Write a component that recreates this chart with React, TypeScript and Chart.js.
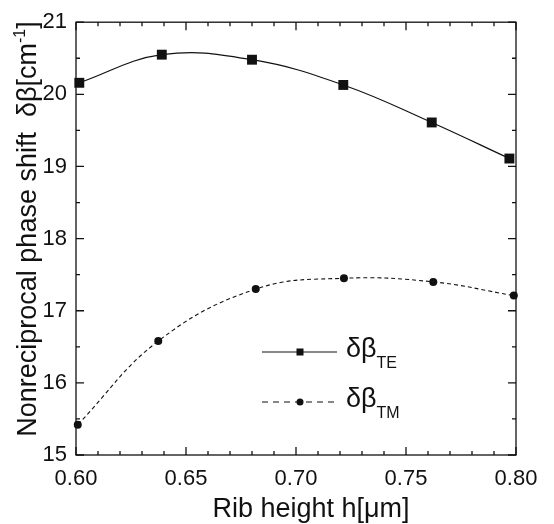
import React, { useEffect, useRef } from "react";
import { Chart, registerables } from "chart.js";

Chart.register(...registerables);

// ---- data ----
const ribHeightTE = [0.6015, 0.639, 0.68, 0.7215, 0.7617, 0.797];
const phaseShiftTE = [20.16, 20.55, 20.48, 20.13, 19.61, 19.11];
const ribHeightTM = [0.6008, 0.6374, 0.6817, 0.7218, 0.7624, 0.799];
const phaseShiftTM = [15.42, 16.58, 17.3, 17.45, 17.4, 17.21];
const xTickValues = [0.6, 0.65, 0.7, 0.75, 0.8];
const yTickValues = [15, 16, 17, 18, 19, 20, 21];
const xMinorPerMajor = 5;
const yMinorPerMajor = 2;
const xAxisTitle = "Rib height h[μm]";
const yAxisTitle = "Nonreciprocal phase shift  δβ[cm";
const yAxisTitleSup = "-1";
const yAxisTitleEnd = "]";
const legendMain = ["δβ", "δβ"];
const legendSub = ["TE", "TM"];

const FONT = '"Liberation Sans", Arial, Helvetica, sans-serif';
const INK = "#111";

const framePlugin = {
  id: "framePlugin",
  afterDraw(chart: any) {
    const ctx = chart.ctx as CanvasRenderingContext2D;
    const { left, right, top, bottom } = chart.chartArea;
    const xs = chart.scales.x;
    const ys = chart.scales.y;
    ctx.save();
    ctx.strokeStyle = INK;
    ctx.lineWidth = 1.3;
    ctx.strokeRect(left, top, right - left, bottom - top);

    ctx.beginPath();
    // x ticks (bottom & top, inward)
    for (let m = 0; m < xTickValues.length; m++) {
      const a = xTickValues[m];
      const b = m + 1 < xTickValues.length ? xTickValues[m + 1] : a;
      const steps = m + 1 < xTickValues.length ? xMinorPerMajor : 1;
      for (let i = 0; i < steps; i++) {
        const v = a + ((b - a) * i) / xMinorPerMajor;
        const p = xs.getPixelForValue(v);
        const len = i === 0 ? 8 : 4;
        ctx.moveTo(p, bottom);
        ctx.lineTo(p, bottom - len);
        ctx.moveTo(p, top);
        ctx.lineTo(p, top + len);
      }
    }
    // y ticks (left & right, inward)
    for (let m = 0; m < yTickValues.length; m++) {
      const a = yTickValues[m];
      const b = m + 1 < yTickValues.length ? yTickValues[m + 1] : a;
      const steps = m + 1 < yTickValues.length ? yMinorPerMajor : 1;
      for (let i = 0; i < steps; i++) {
        const v = a + ((b - a) * i) / yMinorPerMajor;
        const p = ys.getPixelForValue(v);
        const len = i === 0 ? 8 : 4;
        ctx.moveTo(left, p);
        ctx.lineTo(left + len, p);
        ctx.moveTo(right, p);
        ctx.lineTo(right - len, p);
      }
    }
    ctx.stroke();

    // x axis title
    ctx.fillStyle = INK;
    ctx.font = `27px ${FONT}`;
    ctx.textAlign = "center";
    ctx.textBaseline = "alphabetic";
    ctx.fillText(xAxisTitle, 311, 517);

    // y axis title (rotated, with superscript)
    ctx.save();
    ctx.translate(36, 229);
    ctx.rotate(-Math.PI / 2);
    ctx.textAlign = "left";
    ctx.font = `27px ${FONT}`;
    const w1 = ctx.measureText(yAxisTitle).width;
    const w3 = ctx.measureText(yAxisTitleEnd).width;
    ctx.font = `16px ${FONT}`;
    const w2 = ctx.measureText(yAxisTitleSup).width;
    const total = w1 + w2 + w3;
    let x0 = -total / 2;
    ctx.font = `27px ${FONT}`;
    ctx.fillText(yAxisTitle, x0, 0);
    x0 += w1;
    ctx.font = `16px ${FONT}`;
    ctx.fillText(yAxisTitleSup, x0, -11);
    x0 += w2;
    ctx.font = `27px ${FONT}`;
    ctx.fillText(yAxisTitleEnd, x0, 0);
    ctx.restore();

    // legend
    const rows = [352, 402];
    for (let k = 0; k < 2; k++) {
      const y = rows[k];
      ctx.save();
      ctx.lineWidth = 1.2;
      ctx.strokeStyle = INK;
      ctx.setLineDash(k === 0 ? [] : [6, 5]);
      ctx.beginPath();
      ctx.moveTo(262, y);
      ctx.lineTo(337, y);
      ctx.stroke();
      ctx.restore();
      ctx.fillStyle = INK;
      if (k === 0) {
        ctx.fillRect(300 - 3.5, y - 3.5, 7, 7);
      } else {
        ctx.beginPath();
        ctx.arc(300, y, 3.5, 0, Math.PI * 2);
        ctx.fill();
      }
      ctx.textAlign = "left";
      ctx.font = `27px ${FONT}`;
      ctx.fillText(legendMain[k], 346, y + 5);
      const wm = ctx.measureText(legendMain[k]).width;
      ctx.font = `16px ${FONT}`;
      ctx.fillText(legendSub[k], 346 + wm, y + 16);
    }
    ctx.restore();
  },
};

export default function App() {
  const canvasRef = useRef<HTMLCanvasElement | null>(null);

  useEffect(() => {
    const canvas = canvasRef.current;
    if (!canvas) return;
    const chart = new Chart(canvas, {
      type: "line",
      data: {
        datasets: [
          {
            label: "TE",
            data: ribHeightTE.map((x, i) => ({ x, y: phaseShiftTE[i] })),
            borderColor: INK,
            backgroundColor: INK,
            borderWidth: 1.2,
            pointStyle: "rect",
            pointRadius: 7,
            pointBorderWidth: 0,
            tension: 0.4,
            clip: false as any,
            fill: false,
          },
          {
            label: "TM",
            data: ribHeightTM.map((x, i) => ({ x, y: phaseShiftTM[i] })),
            borderColor: INK,
            backgroundColor: INK,
            borderWidth: 1.1,
            borderDash: [4, 3],
            pointStyle: "circle",
            pointRadius: 4,
            pointBorderWidth: 0,
            tension: 0.4,
            clip: false as any,
            fill: false,
          },
        ],
      },
      options: {
        responsive: false,
        animation: false,
        devicePixelRatio: 1,
        layout: { padding: { left: 0, right: 38, top: 15, bottom: 0 } },
        plugins: {
          legend: { display: false },
          tooltip: { enabled: false },
        },
        scales: {
          x: {
            type: "linear",
            min: xTickValues[0],
            max: xTickValues[xTickValues.length - 1],
            grid: { display: false, drawTicks: false },
            border: { display: false },
            afterBuildTicks: (s: any) => {
              s.ticks = xTickValues.map((v) => ({ value: v }));
            },
            afterFit: (s: any) => {
              s.height = 69;
            },
            ticks: {
              color: INK,
              font: { family: FONT, size: 22 },
              padding: 11,
              maxRotation: 0,
              autoSkip: false,
              callback: (v: any) => Number(v).toFixed(2),
            },
          },
          y: {
            type: "linear",
            min: yTickValues[0],
            max: yTickValues[yTickValues.length - 1],
            grid: { display: false, drawTicks: false },
            border: { display: false },
            afterBuildTicks: (s: any) => {
              s.ticks = yTickValues.map((v) => ({ value: v }));
            },
            afterFit: (s: any) => {
              s.width = 76;
            },
            ticks: {
              color: INK,
              font: { family: FONT, size: 22 },
              padding: 9,
              autoSkip: false,
              callback: (v: any) => String(v),
            },
          },
        },
      },
      plugins: [framePlugin],
    });
    return () => chart.destroy();
  }, []);

  return (
    <div style={{ position: "absolute", left: 0, top: 0, width: 554, height: 524, background: "#fff" }}>
      <canvas ref={canvasRef} width={554} height={524} style={{ display: "block" }} />
    </div>
  );
}
